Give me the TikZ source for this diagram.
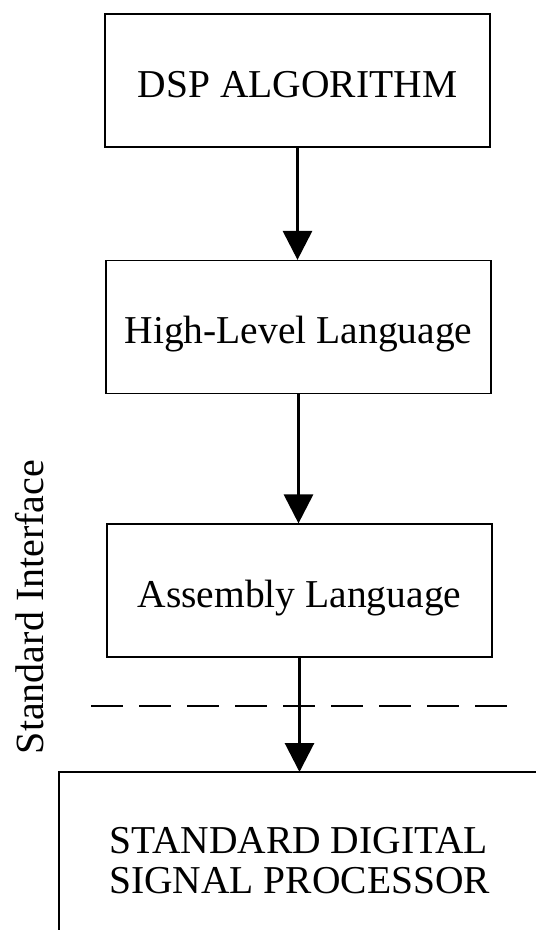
\documentclass[tikz,border=0pt]{standalone}
\usepackage{fontspec}
\setmainfont{Liberation Serif}
\usetikzlibrary{arrows.meta}

\begin{document}
\begin{tikzpicture}[x=1pt,y=-1pt,>={Triangle[width=29pt,length=29pt]},
  stage/.style={draw,line width=1.2pt,minimum width=385pt,minimum height=133pt,
    inner sep=0pt,text height=33pt,text depth=0pt,font=\fontsize{39.5}{40}\selectfont},
  flow/.style={->,line width=3pt}]
  \clip (0,0) rectangle (536,930);
  \node[stage] (alg) at (297.5,80.5) {DSP ALGORITHM};
  \node[stage] (hll) at (298.5,327) {High-Level Language};
  \node[stage] (asm) at (299.5,590.5) {Assembly Language};
  % processor box runs off the page to the right and below
  \coordinate (dspcorner) at (59,772);
  \draw[line width=1.2pt] (59,940) -- (dspcorner) -- (546,772);
  \node[align=left,anchor=base west,inner sep=0pt,font=\fontsize{39.5}{40}\selectfont]
    (dsp) at (109,893) {STANDARD DIGITAL\\SIGNAL PROCESSOR};
  \draw[line width=1.4pt,dash pattern=on 32pt off 16pt] (91,706) -- (512,706);
  \draw[flow] (alg.south) -- (alg.south |- hll.north);
  \draw[flow] (hll.south) -- (hll.south |- asm.north);
  \draw[flow] (asm.south) -- (asm.south |- dspcorner);
  \node[rotate=90,anchor=base,inner sep=0pt,font=\fontsize{40}{40}\selectfont]
    (iface) at (43,607) {Standard Interface};
\end{tikzpicture}
\end{document}
